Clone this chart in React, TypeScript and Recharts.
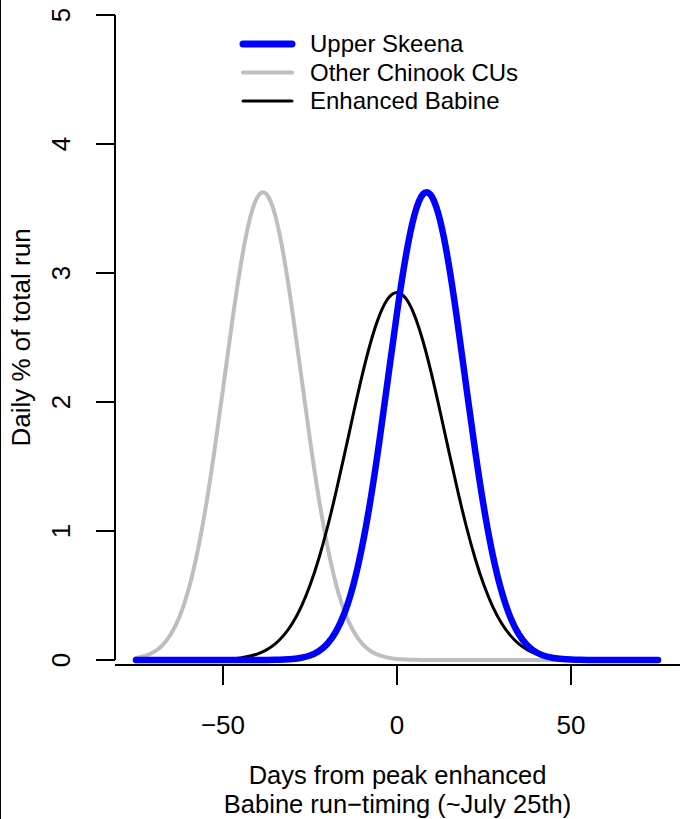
import React from "react";
import { LineChart, Line, XAxis, YAxis, ReferenceLine, Legend } from "recharts";

const FONT = '"Liberation Sans", Arial, Helvetica, sans-serif';

// days from the peak of the enhanced Babine run, every 2.5 days
const days = [
  -75, -72.5, -70, -67.5, -65, -62.5, -60, -57.5, -55, -52.5,
  -50, -47.5, -45, -42.5, -40, -37.5, -35, -32.5, -30, -27.5,
  -25, -22.5, -20, -17.5, -15, -12.5, -10, -7.5, -5, -2.5,
  0, 2.5, 5, 7.5, 10, 12.5, 15, 17.5, 20, 22.5,
  25, 27.5, 30, 32.5, 35, 37.5, 40, 42.5, 45, 47.5,
  50, 52.5, 55, 57.5, 60, 62.5, 65, 67.5, 70, 72.5, 75,
];

// daily % of total run
const otherChinook = [
  0.015, 0.031, 0.06, 0.112, 0.199, 0.336, 0.537, 0.816, 1.177, 1.614,
  2.1, 2.595, 3.046, 3.395, 3.593, 3.612, 3.448, 3.125, 2.691, 2.2,
  1.708, 1.259, 0.882, 0.586, 0.37, 0.222, 0.126, 0.068, 0.035, 0.017,
  0.008, 0.0035, 0.0015, 0.0006, 0.0002, 0, 0, 0, 0, 0,
  0, 0, 0, 0, 0, 0, 0, 0, 0, 0,
  0, 0, 0, 0, 0, 0, 0, 0, 0, 0, 0,
];

const enhancedBabine = [
  0, 0, 0, 0, 0, 0, 0.0003, 0.0006, 0.0013, 0.0025,
  0.0048, 0.009, 0.0163, 0.0284, 0.0481, 0.0789, 0.1252, 0.1926, 0.2868, 0.4139,
  0.5786, 0.7833, 1.0271, 1.3046, 1.6051, 1.9129, 2.208, 2.4687, 2.6736, 2.8045,
  2.8496, 2.8045, 2.6736, 2.4687, 2.208, 1.9129, 1.6051, 1.3046, 1.0271, 0.7833,
  0.5786, 0.4139, 0.2868, 0.1926, 0.1252, 0.0789, 0.0481, 0.0284, 0.0163, 0.009,
  0.0048, 0.0025, 0.0013, 0.0006, 0.0003, 0, 0, 0, 0, 0, 0,
];

const upperSkeena = [
  0, 0, 0, 0, 0, 0, 0, 0, 0, 0,
  0, 0, 0, 0, 0.0002, 0.0006, 0.0015, 0.004, 0.008, 0.017,
  0.035, 0.068, 0.126, 0.222, 0.37, 0.586, 0.882, 1.259, 1.708, 2.2,
  2.691, 3.125, 3.448, 3.612, 3.593, 3.395, 3.046, 2.595, 2.1, 1.614,
  1.177, 0.816, 0.537, 0.336, 0.199, 0.112, 0.06, 0.031, 0.015, 0.007,
  0.003, 0.001, 0.0005, 0.0002, 0, 0, 0, 0, 0, 0, 0,
];

const xTicks = [-50, 0, 50];
const yTicks = [0, 1, 2, 3, 4, 5];
const X_DOMAIN: [number, number] = [-81.03, 81.32];
const Y_DOMAIN: [number, number] = [-0.0388, 5];

const legendItems = [
  { name: "Upper Skeena", color: "#0000ff", width: 7 },
  { name: "Other Chinook CUs", color: "#bebebe", width: 4 },
  { name: "Enhanced Babine", color: "#000000", width: 3 },
];

const rows = days.map((day, i) => ({
  day,
  skeena: upperSkeena[i],
  other: otherChinook[i],
  babine: enhancedBabine[i],
}));

const minus = (v: number) => String(v).replace("-", "\u2212");

function YTick({ x, y, payload }: any) {
  return (
    <text
      transform={`translate(${x},${y}) rotate(-90)`}
      textAnchor="middle"
      fontSize={26}
      fontFamily={FONT}
      fill="#000"
    >
      {payload.value}
    </text>
  );
}

function XTitle({ viewBox }: any) {
  const cx = viewBox.x + viewBox.width / 2;
  return (
    <g fontFamily={FONT} fontSize={25.5} fill="#000" textAnchor="middle">
      <text x={cx} y={viewBox.y + 119}>Days from peak enhanced</text>
      <text x={cx} y={viewBox.y + 148}>Babine run{"\u2212"}timing (~July 25th)</text>
    </g>
  );
}

function YTitle({ viewBox }: any) {
  const cy = viewBox.y + viewBox.height / 2 - 2.5;
  return (
    <text
      transform={`translate(${viewBox.x + 30},${cy}) rotate(-90)`}
      textAnchor="middle"
      fontFamily={FONT}
      fontSize={26}
      fill="#000"
    >
      Daily % of total run
    </text>
  );
}

function LegendBox() {
  return (
    <svg width={300} height={100} style={{ display: "block" }}>
      {legendItems.map((item, i) => {
        const y = 19 + i * 28.5;
        return (
          <g key={item.name}>
            <line x1={8} x2={57} y1={y} y2={y} stroke={item.color} strokeWidth={item.width} strokeLinecap="round" />
            <text x={75} y={y} dy="0.35em" fontFamily={FONT} fontSize={24} fill="#000">
              {item.name}
            </text>
          </g>
        );
      })}
    </svg>
  );
}

export default function App() {
  return (
    <div style={{ position: "absolute", left: 0, top: 0, width: 686, height: 819, background: "#fff" }}>
      <div style={{ position: "absolute", left: 0, top: 0, width: 1, height: 819, background: "#000" }} />
      <LineChart
        width={686}
        height={819}
        data={rows}
        margin={{ top: 15, right: 6, bottom: 14, left: 0 }}
      >
        <XAxis
          dataKey="day"
          type="number"
          domain={X_DOMAIN}
          allowDataOverflow
          ticks={xTicks}
          tickFormatter={minus}
          height={140}
          tickSize={20}
          tickMargin={31}
          axisLine={{ stroke: "#000", strokeWidth: 2 }}
          tickLine={{ stroke: "#000", strokeWidth: 2 }}
          tick={{ fill: "#000", fontSize: 26, fontFamily: FONT }}
          label={{ content: XTitle }}
        />
        <YAxis
          type="number"
          domain={Y_DOMAIN}
          allowDataOverflow
          ticks={yTicks}
          width={115}
          tickSize={19}
          tickMargin={26}
          axisLine={false}
          tickLine={{ stroke: "#000", strokeWidth: 2 }}
          tick={<YTick />}
          label={{ content: YTitle }}
        />
        <ReferenceLine
          segment={[
            { x: X_DOMAIN[0], y: 0 },
            { x: X_DOMAIN[0], y: 5 },
          ]}
          stroke="#000"
          strokeWidth={2}
          ifOverflow="visible"
        />
        <Line
          type="natural"
          dataKey="other"
          name="Other Chinook CUs"
          stroke="#bebebe"
          strokeWidth={4}
          strokeLinecap="round"
          dot={false}
          activeDot={false}
          isAnimationActive={false}
        />
        <Line
          type="natural"
          dataKey="babine"
          name="Enhanced Babine"
          stroke="#000000"
          strokeWidth={3}
          strokeLinecap="round"
          dot={false}
          activeDot={false}
          isAnimationActive={false}
        />
        <Line
          type="natural"
          dataKey="skeena"
          name="Upper Skeena"
          stroke="#0000ff"
          strokeWidth={6.5}
          strokeLinecap="round"
          dot={false}
          activeDot={false}
          isAnimationActive={false}
        />
        <Legend
          layout="vertical"
          align="center"
          verticalAlign="middle"
          content={<LegendBox />}
          wrapperStyle={{ top: 25, left: 235, width: 300, height: 100 }}
        />
      </LineChart>
    </div>
  );
}
